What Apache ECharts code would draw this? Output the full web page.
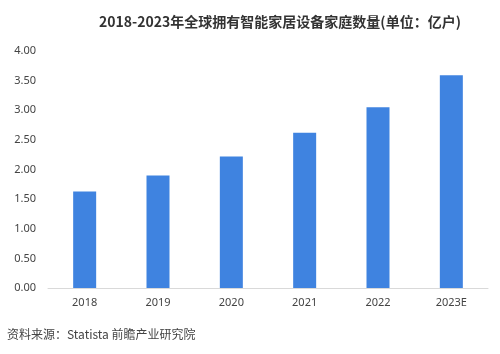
<!DOCTYPE html>
<html><head><meta charset="utf-8">
<script src="https://cdn.jsdelivr.net/npm/echarts@6/dist/echarts.min.js"></script>
<style>html,body{margin:0;padding:0;background:#fff}#c{width:500px;height:354px}</style>
</head><body><div id="c"></div>
<script>
var categories = ['2018','2019','2020','2021','2022','2023E'];
var households = [1.63, 1.90, 2.22, 2.62, 3.05, 3.59];
var titleText = '2018-2023年全球拥有智能家居设备家庭数量(单位：亿户)';
var sourceText = '资料来源：Statista 前瞻产业研究院';

var chart = echarts.init(document.getElementById('c'), null, {renderer:'canvas'});
chart.setOption({
  backgroundColor:'#fff',
  animation:false,
  title:{
    text:titleText, left:275, top:10, textAlign:'center',
    textStyle:{fontFamily:'Noto Sans CJK SC', fontSize:14, fontWeight:'bold', color:'#333'}
  },
  graphic:[{type:'text', left:7, top:328, style:{text:sourceText, font:'12px "Noto Sans CJK SC"', fill:'#444'}}],
  grid:{left:48, right:12, top:51, bottom:66, containLabel:false},
  xAxis:{
    type:'category', data:categories,
    axisLine:{lineStyle:{color:'#d9d9d9'}}, axisTick:{show:false},
    axisLabel:{color:'#444', fontSize:11, fontFamily:'Noto Sans', margin:9}
  },
  yAxis:{
    type:'value', min:0, max:4, interval:0.5,
    splitLine:{show:false}, axisLine:{show:false}, axisTick:{show:false},
    axisLabel:{color:'#444', fontSize:11, fontFamily:'Noto Sans', margin:12, formatter:function(v){return v.toFixed(2);}}
  },
  series:[{type:'bar', data:households, barWidth:23, itemStyle:{color:'#3F83E0'}}]
});
</script></body></html>
